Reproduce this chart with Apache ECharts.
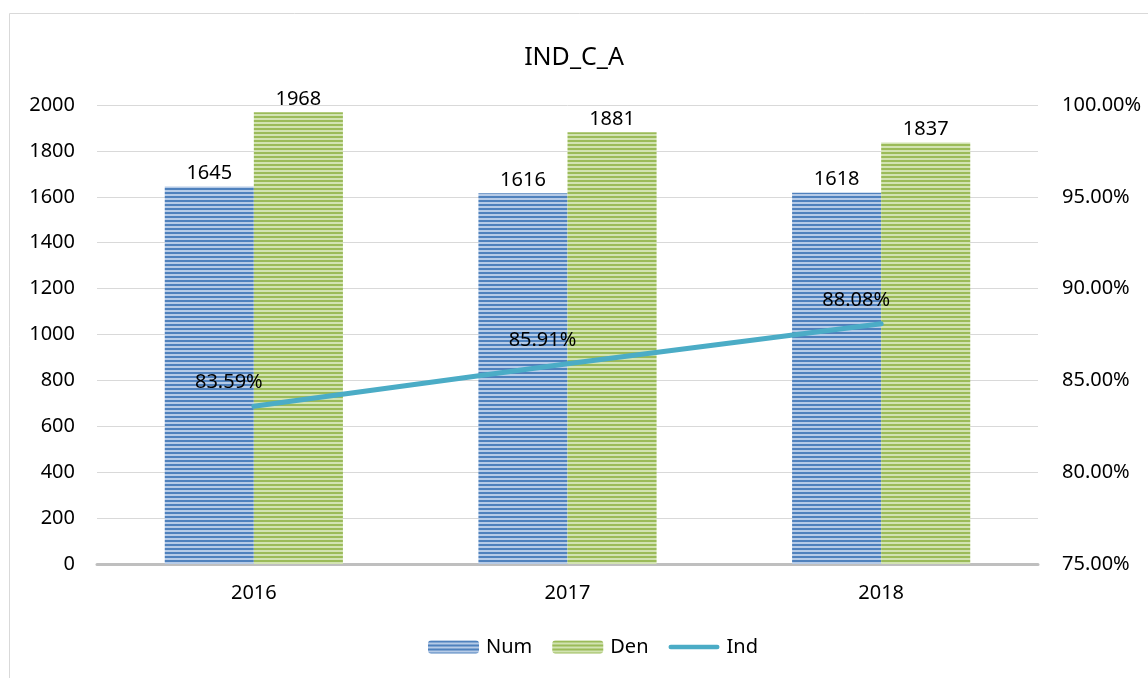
<!DOCTYPE html>
<html>
<head>
<meta charset="utf-8">
<script src="https://cdn.jsdelivr.net/npm/echarts@6/dist/echarts.min.js"></script>
<style>
    html, body { margin: 0; padding: 0; background: #fff; }
    #chart { width: 1148px; height: 678px; }
</style>
</head>
<body>
<div id="chart"></div>
<script>
// 数据
var years = ['2016', '2017', '2018'];
var numValues = [1645, 1616, 1618];
var denValues = [1968, 1881, 1837];
var indValues = [83.59, 85.91, 88.08];

var font = 'Noto Sans';

// 横条纹填充
function stripe(dark, light) {
    var c = document.createElement('canvas');
    c.width = 4;
    c.height = 4;
    var ctx = c.getContext('2d');
    ctx.fillStyle = light;
    ctx.fillRect(0, 0, 4, 4);
    ctx.fillStyle = dark;
    ctx.fillRect(0, 0, 4, 2);
    return { image: c, repeat: 'repeat' };
}

var blueFill = stripe('#4f81bd', '#b6cbe7');
var greenFill = stripe('#9bbb59', '#d2e3b2');

var myChart = echarts.init(document.getElementById('chart'));

var barLabel = {
    show: true,
    position: 'top',
    distance: 3,
    color: '#000',
    fontFamily: font,
    fontSize: 20
};

var option = {
    animation: false,
    title: {
        text: 'IND_C_A',
        left: 'center',
        top: 40,
        textStyle: {
            fontFamily: font,
            fontSize: 25,
            fontWeight: 'normal',
            color: '#000'
        }
    },
    graphic: [{
        type: 'rect',
        shape: { x: 9.5, y: 13.5, width: 2000, height: 2000 },
        style: { fill: 'none', stroke: '#d9d9d9', lineWidth: 1 },
        silent: true
    }],
    legend: {
        bottom: 16,
        left: 423,
        itemWidth: 51,
        itemHeight: 13,
        itemGap: 20,
        textStyle: { fontFamily: font, fontSize: 20, color: '#000', padding: [0, 0, 0, 2] },
        data: [
            { name: 'Num' },
            { name: 'Den' },
            { name: 'Ind', icon: 'path://M2.5,0H53.5A2.5,2.5 0 0 1 53.5,5H2.5A2.5,2.5 0 0 1 2.5,0Z' }
        ]
    },
    grid: {
        left: 97,
        right: 110,
        top: 105,
        bottom: 114,
        containLabel: false
    },
    xAxis: {
        type: 'category',
        data: years,
        axisTick: { show: false },
        axisLine: { lineStyle: { color: '#bfbfbf', width: 3 } },
        axisLabel: { color: '#000', fontFamily: font, fontSize: 20, margin: 19 }
    },
    yAxis: [{
        type: 'value',
        min: 0,
        max: 2000,
        interval: 200,
        axisLine: { show: false },
        axisTick: { show: false },
        splitLine: { lineStyle: { color: '#d9d9d9', width: 1 } },
        axisLabel: {
            color: '#000',
            fontFamily: font,
            fontSize: 20,
            margin: 22,
            formatter: function (v) { return String(v); }
        }
    }, {
        type: 'value',
        min: 75,
        max: 100,
        interval: 5,
        axisLine: { show: false },
        axisTick: { show: false },
        splitLine: { show: false },
        axisLabel: {
            color: '#000',
            fontFamily: font,
            fontSize: 20,
            margin: 24,
            formatter: function (v) { return v.toFixed(2) + '%'; }
        }
    }],
    series: [{
        name: 'Num',
        type: 'bar',
        data: numValues,
        barWidth: '28.4%',
        barGap: '0%',
        itemStyle: { color: blueFill },
        label: barLabel
    }, {
        name: 'Den',
        type: 'bar',
        data: denValues,
        barWidth: '28.4%',
        itemStyle: { color: greenFill },
        label: barLabel
    }, {
        name: 'Ind',
        type: 'line',
        yAxisIndex: 1,
        data: indValues,
        symbol: 'circle',
        symbolSize: 1,
        lineStyle: { color: '#4bacc6', width: 5, cap: 'round' },
        itemStyle: { color: '#4bacc6' },
        label: {
            show: true,
            position: 'top',
            distance: 13,
            offset: [-25, 0],
            color: '#000',
            fontFamily: font,
            fontSize: 20,
            formatter: function (p) { return p.value.toFixed(2) + '%'; }
        }
    }]
};

myChart.setOption(option);
</script>
</body>
</html>
